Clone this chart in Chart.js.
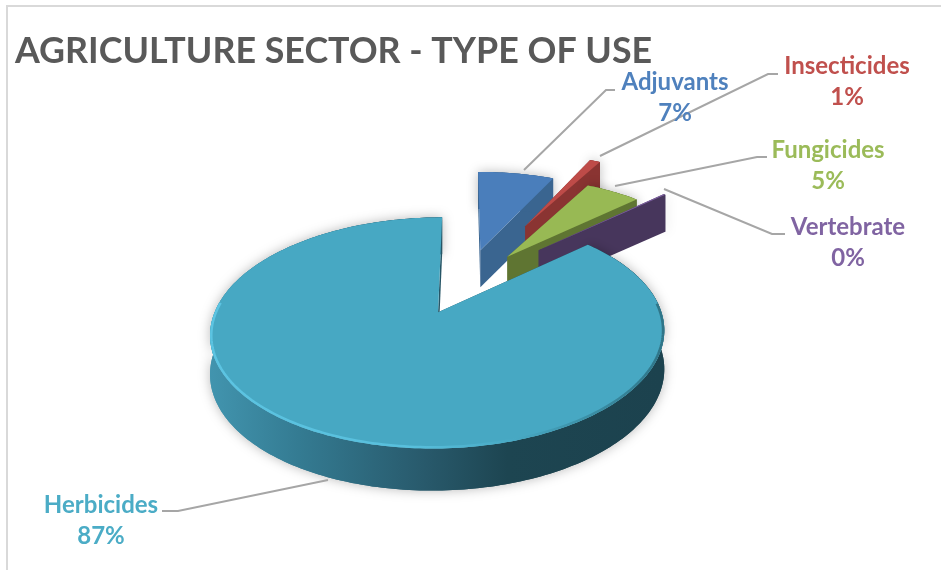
<!DOCTYPE html>
<html>
<head>
<meta charset="utf-8">
<title>Agriculture sector - type of use</title>
<script src="https://cdn.jsdelivr.net/npm/chart.js@4/dist/chart.umd.min.js"></script>
<style>
    html, body { margin: 0; padding: 0; background: #fff; }
    #wrap { position: relative; width: 941px; height: 570px; overflow: hidden; }
    #frame { position: absolute; left: 6px; top: 5px; width: 940px; height: 570px; border: 2px solid #d9d9d9; }
    canvas { position: absolute; left: 0; top: 0; }
</style>
</head>
<body>
<div id="wrap">
    <div id="frame"></div>
    <canvas id="useChart" width="941" height="570"></canvas>
</div>
<script>
// data
const categories = ['Adjuvants', 'Insecticides', 'Fungicides', 'Vertebrate', 'Herbicides'];
const shares = [7, 1, 5, 0.2, 87];

// slice colours
const topColors = ['#4a7ebb', '#be4b48', '#98b954', '#7d60a0', '#47a8c3'];
const wallColors = ['#3a6590', '#8a3432', '#5f7532', '#47365c', '#27596a'];
const labelColors = ['#4f81bd', '#c0504d', '#9bbb59', '#8064a2', '#4bacc6'];

// where each label sits and how its leader runs
const labelCenters = [[675, 90], [847, 74], [828, 158], [848, 235], [101, 513]];
const leaderRuns = [
    [[524, 170], [606, 90], [615, 90]],
    [[600, 156], [768, 74], [778, 74]],
    [[615, 186], [757, 157], [767, 157]],
    [[664, 189], [772, 234], [785, 234]],
    [[328, 480], [178, 511], [162, 511]]
];

// tilted disc with a little perspective
const DISC = { ox: 465, oy: 283, rx: 213, ry: 101.7, k: 0.17 };
const project = (u, v) => {
    const w = 1 - DISC.k * v;
    return { x: DISC.ox + DISC.rx * u / w, y: DISC.oy + DISC.ry * v / w };
};
const wallDepth = (v) => 37 + Math.max(0, v) * 4;

// outline of one arc element in disc units, sampled along its rim
const sliceOutline = (el) => {
    const mid = (el.startAngle + el.endAngle) / 2;
    const off = el.options.offset / el.outerRadius;
    const apex = { u: Math.cos(mid) * off, v: Math.sin(mid) * off };
    const steps = Math.max(2, Math.ceil((el.endAngle - el.startAngle) / 0.02));
    const rim = [];
    for (let i = 0; i <= steps; i++) {
        const a = el.startAngle + (el.endAngle - el.startAngle) * i / steps;
        rim.push({ u: apex.u + Math.cos(a), v: apex.v + Math.sin(a) });
    }
    return { apex, rim };
};

const tracePath = (ctx, pts) => {
    ctx.beginPath();
    pts.forEach((p, i) => i ? ctx.lineTo(p.x, p.y) : ctx.moveTo(p.x, p.y));
    ctx.closePath();
};

const dropped = (p) => {
    const s = project(p.u, p.v);
    return { x: s.x, y: s.y + wallDepth(p.v) };
};

const drawWall = (ctx, edge, fill) => {
    const upper = edge.map(p => project(p.u, p.v));
    const lower = edge.map(dropped).reverse();
    tracePath(ctx, upper.concat(lower));
    ctx.fillStyle = fill;
    ctx.fill();
};

// the big slice gets a sideways gradient on its rim wall
const herbicideWall = (ctx) => {
    const g = ctx.createLinearGradient(208, 0, 662, 0);
    g.addColorStop(0, '#4295af');
    g.addColorStop(0.2, '#347b92');
    g.addColorStop(0.48, '#28596b');
    g.addColorStop(0.66, '#1d4551');
    g.addColorStop(1, '#1c424e');
    return g;
};

const rimLight = (ctx) => {
    const g = ctx.createLinearGradient(208, 0, 662, 0);
    g.addColorStop(0, '#5cc4e2');
    g.addColorStop(0.45, '#58bfdc');
    g.addColorStop(0.68, '#47a8c3');
    g.addColorStop(1, '#2f7588');
    return g;
};

const pie3dPlugin = {
    id: 'pie3d',
    beforeDatasetDraw(chart, args) {
        const ctx = chart.ctx;
        const arcs = chart.getDatasetMeta(args.index).data;
        arcs.forEach((el, i) => {
            const { apex, rim } = sliceOutline(el);
            const isBig = i === arcs.length - 1;
            const wallFill = isBig ? herbicideWall(ctx) : wallColors[i];

            // soft ground shadow under the rim wall
            ctx.save();
            ctx.shadowColor = 'rgba(0,0,0,0.28)';
            ctx.shadowBlur = 12;
            drawWall(ctx, rim, wallFill);
            ctx.restore();

            drawWall(ctx, [apex, rim[0]], wallFill);
            drawWall(ctx, [apex, rim[rim.length - 1]], wallFill);
            drawWall(ctx, rim, wallFill);

            tracePath(ctx, [apex].concat(rim).map(p => project(p.u, p.v)));
            ctx.fillStyle = topColors[i];
            ctx.fill();

            if (isBig) {
                // bevel highlight on the front part of the rim, kept inside the face
                ctx.save();
                ctx.clip();
                const front = rim.filter(p => p.v - apex.v > -0.1);
                ctx.beginPath();
                front.forEach((p, n) => {
                    const s = project(p.u, p.v);
                    n ? ctx.lineTo(s.x, s.y) : ctx.moveTo(s.x, s.y);
                });
                ctx.strokeStyle = rimLight(ctx);
                ctx.lineWidth = 5;
                ctx.stroke();
                ctx.restore();
            }
        });
        return false;
    },
    afterDraw(chart) {
        const ctx = chart.ctx;
        const total = shares.reduce((a, b) => a + b, 0);
        ctx.save();
        ctx.lineWidth = 2;
        ctx.strokeStyle = '#a6a6a6';
        leaderRuns.forEach(run => {
            ctx.beginPath();
            run.forEach(([x, y], n) => n ? ctx.lineTo(x, y) : ctx.moveTo(x, y));
            ctx.stroke();
        });
        ctx.font = 'bold 24px Lato';
        ctx.textAlign = 'center';
        ctx.textBaseline = 'alphabetic';
        categories.forEach((name, i) => {
            const [cx, cy] = labelCenters[i];
            ctx.fillStyle = labelColors[i];
            ctx.fillText(name, cx, cy);
            ctx.fillText(Math.round(shares[i] / total * 100) + '%', cx, cy + 31);
        });
        ctx.restore();
    }
};

new Chart(document.getElementById('useChart'), {
    type: 'pie',
    data: {
        labels: categories,
        datasets: [{
            data: shares,
            backgroundColor: topColors,
            borderWidth: 0,
            offset: [70, 138, 68, 100, 60]
        }]
    },
    options: {
        responsive: false,
        animation: false,
        radius: 200,
        layout: { padding: { left: 15, top: 30 } },
        plugins: {
            legend: { display: false },
            tooltip: { enabled: false },
            title: {
                display: true,
                text: 'AGRICULTURE SECTOR - TYPE OF USE',
                align: 'start',
                color: '#595959',
                font: { family: 'Lato', size: 35.8, weight: 'bold' },
                padding: 0
            }
        }
    },
    plugins: [pie3dPlugin]
});
</script>
</body>
</html>
